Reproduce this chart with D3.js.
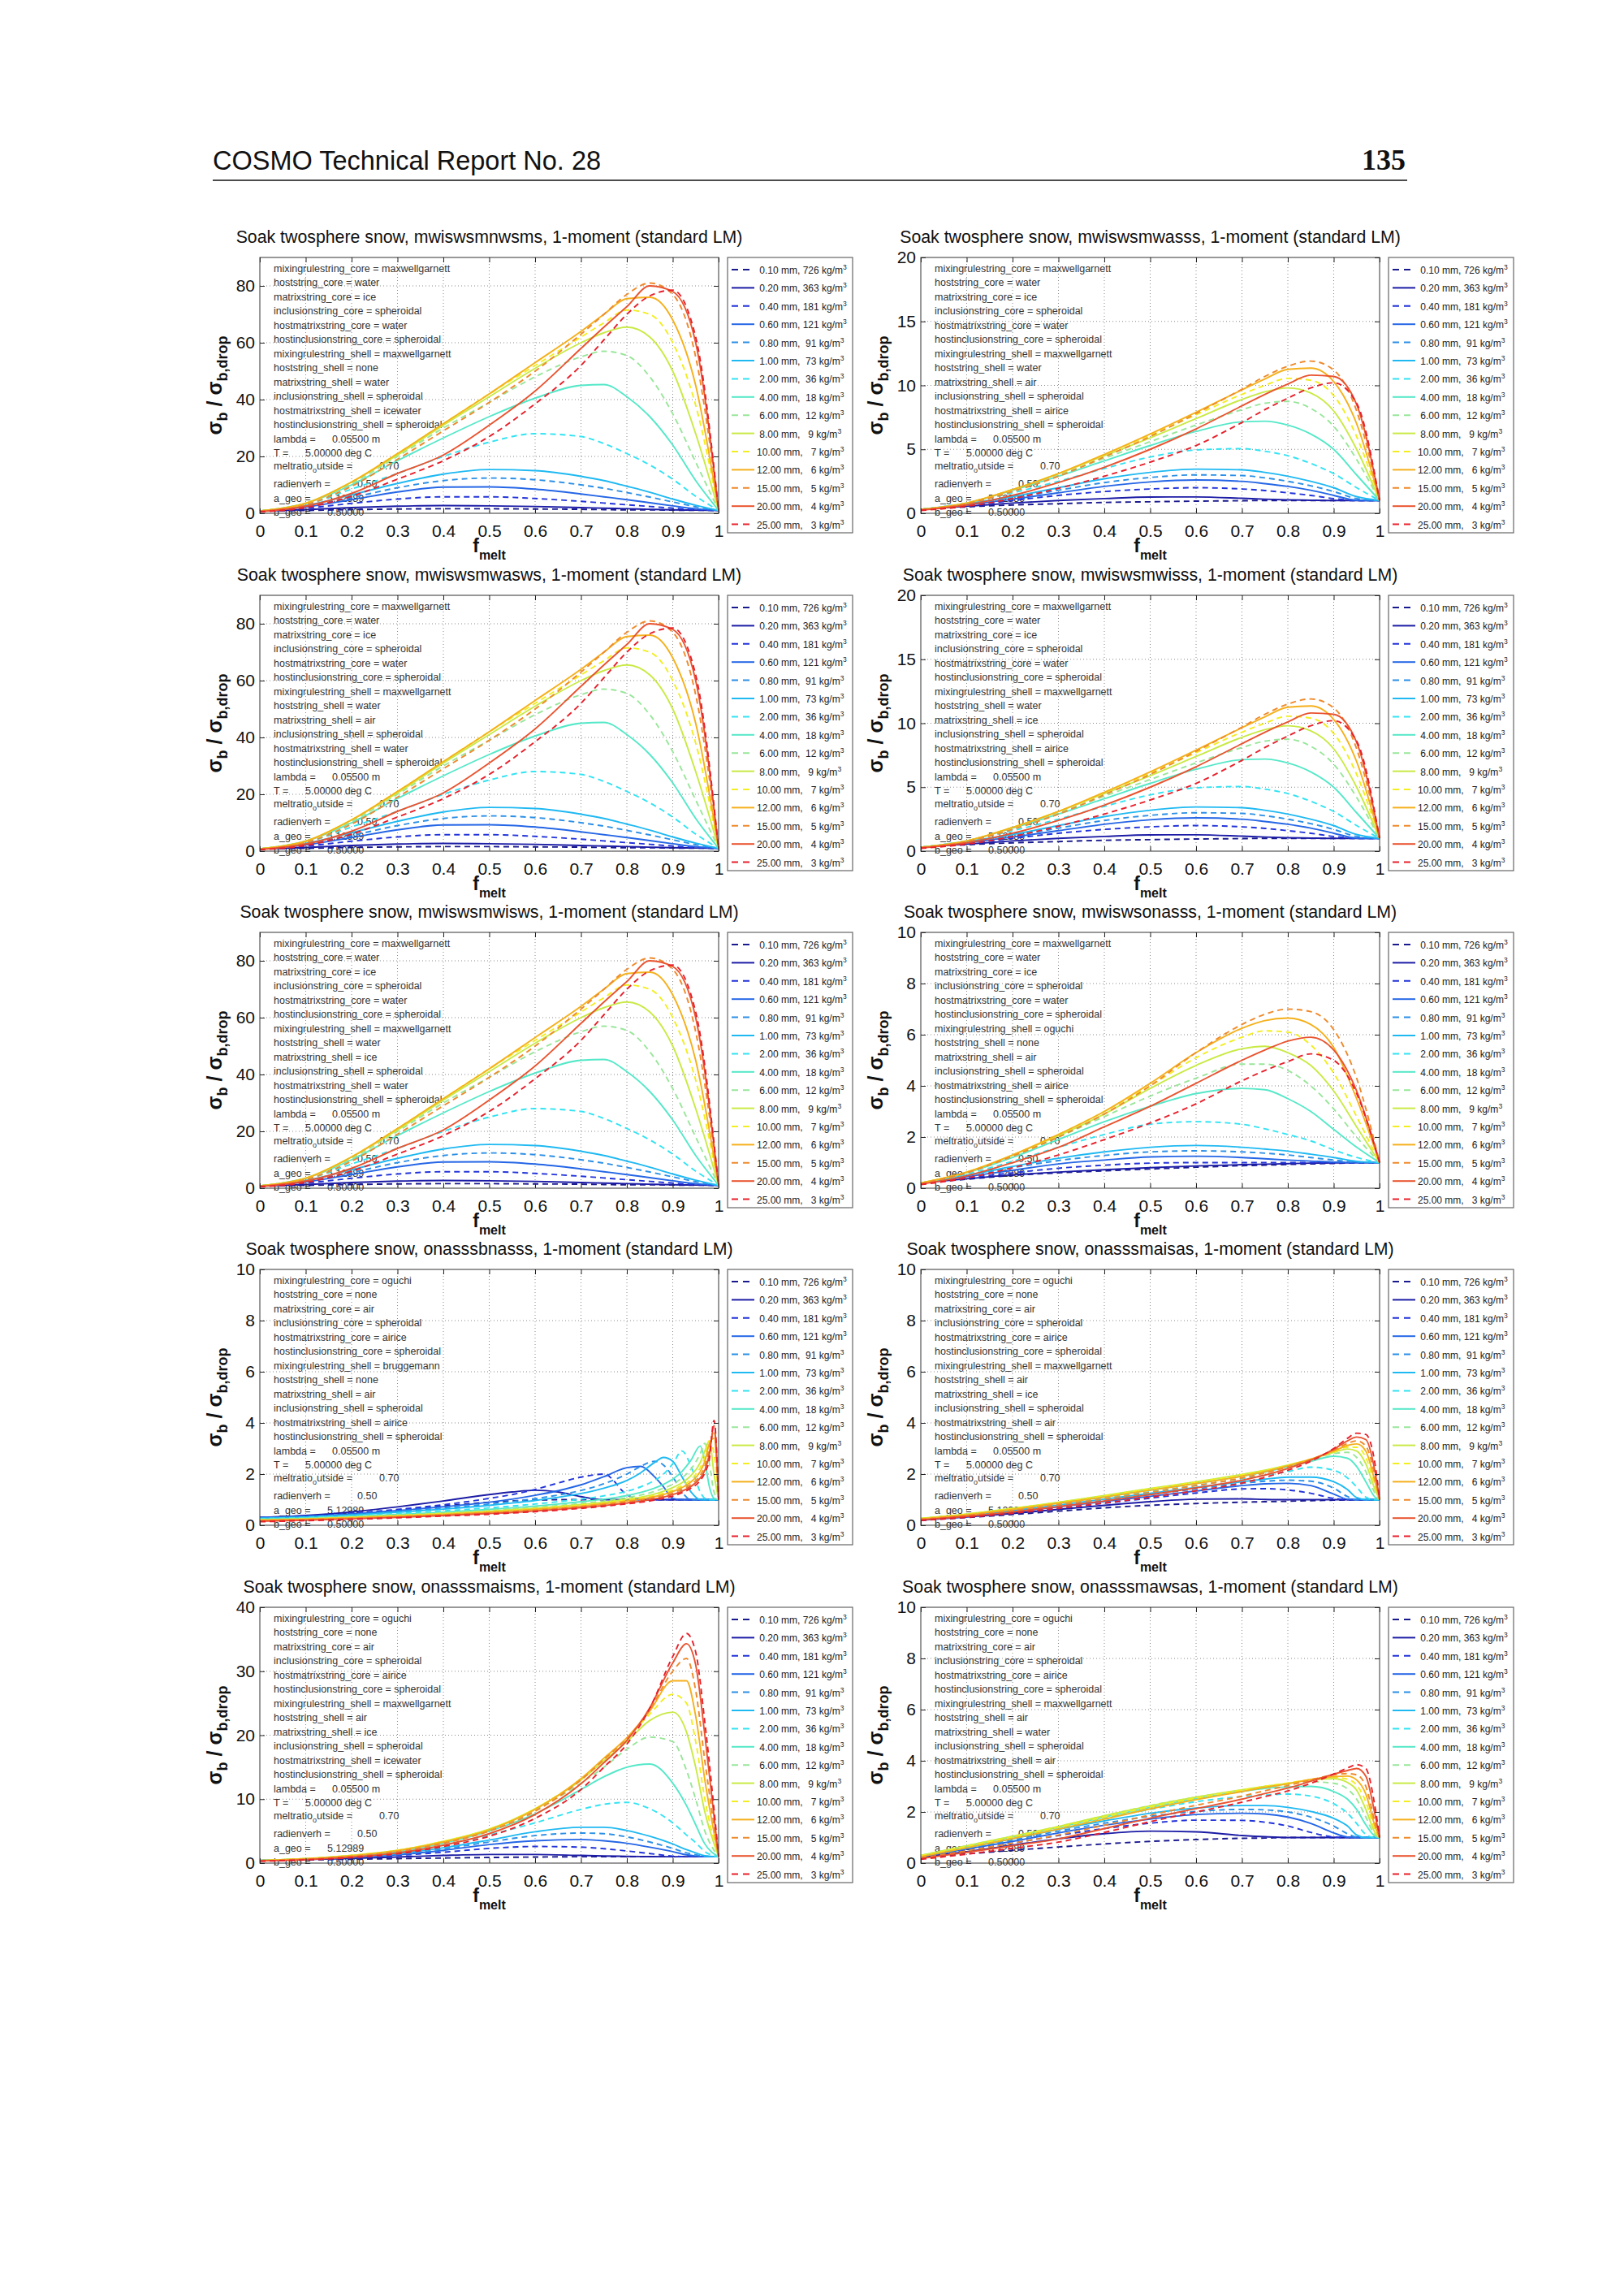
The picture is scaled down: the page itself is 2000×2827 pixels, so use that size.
<!DOCTYPE html>
<html lang="en">
<head>
<meta charset="utf-8">
<script src="https://cdn.jsdelivr.net/npm/d3@7"></script>
<style>
body { margin: 0; background: #fff; }
svg text { font-family: "Liberation Sans", Arial, Helvetica, sans-serif; }
.pre { white-space: pre; }
</style>
</head>
<body>
<script>
// ---------- data ----------
// legend: particle size and density
const sizeLabels = ["0.10", "0.20", "0.40", "0.60", "0.80", "1.00", "2.00", "4.00", "6.00", "8.00", "10.00", "12.00", "15.00", "20.00", "25.00"];
const densityLabels = [726, 363, 181, 121, 91, 73, 36, 18, 12, 9, 7, 6, 5, 4, 3];

// line styles (jet-like colour order, dashed / solid alternate)
const seriesColors = ["#1a1a8f", "#1c1ca6", "#2233d9", "#2566e6", "#2b8fe6", "#1fb9f2", "#33e3f2", "#55e8c8",
                      "#99e69a", "#c9ea45", "#f2ee1f", "#f5b01c", "#ef8a2c", "#e9532f", "#e8202b"];
const seriesDashed = [true, false, true, false, true, false, true, false, true, false, true, false, true, false, true];

const panelTitles = [
  "Soak twosphere snow, mwiswsmnwsms, 1-moment (standard LM)",
  "Soak twosphere snow, mwiswsmwasss, 1-moment (standard LM)",
  "Soak twosphere snow, mwiswsmwasws, 1-moment (standard LM)",
  "Soak twosphere snow, mwiswsmwisss, 1-moment (standard LM)",
  "Soak twosphere snow, mwiswsmwisws, 1-moment (standard LM)",
  "Soak twosphere snow, mwiswsonasss, 1-moment (standard LM)",
  "Soak twosphere snow, onasssbnasss, 1-moment (standard LM)",
  "Soak twosphere snow, onasssmaisas, 1-moment (standard LM)",
  "Soak twosphere snow, onasssmaisms, 1-moment (standard LM)",
  "Soak twosphere snow, onasssmawsas, 1-moment (standard LM)"
];
const panelYMax = [90, 20, 90, 20, 90, 10, 10, 10, 40, 10];
const panelYStep = [20, 5, 20, 5, 20, 2, 2, 2, 10, 2];
const xTickValues = [0, 0.1, 0.2, 0.3, 0.4, 0.5, 0.6, 0.7, 0.8, 0.9, 1];
const xTickLabels = ["0", "0.1", "0.2", "0.3", "0.4", "0.5", "0.6", "0.7", "0.8", "0.9", "1"];

// annotation text
const paramNames = ["mixingrulestring", "hoststring", "matrixstring", "inclusionstring", "hostmatrixstring", "hostinclusionstring"];
const coreSettings = [
  ["maxwellgarnett", "water", "ice", "spheroidal", "water", "spheroidal"],
  ["maxwellgarnett", "water", "ice", "spheroidal", "water", "spheroidal"],
  ["maxwellgarnett", "water", "ice", "spheroidal", "water", "spheroidal"],
  ["maxwellgarnett", "water", "ice", "spheroidal", "water", "spheroidal"],
  ["maxwellgarnett", "water", "ice", "spheroidal", "water", "spheroidal"],
  ["maxwellgarnett", "water", "ice", "spheroidal", "water", "spheroidal"],
  ["oguchi", "none", "air", "spheroidal", "airice", "spheroidal"],
  ["oguchi", "none", "air", "spheroidal", "airice", "spheroidal"],
  ["oguchi", "none", "air", "spheroidal", "airice", "spheroidal"],
  ["oguchi", "none", "air", "spheroidal", "airice", "spheroidal"]
];
const shellSettings = [
  ["maxwellgarnett", "none", "water", "spheroidal", "icewater", "spheroidal"],
  ["maxwellgarnett", "water", "air", "spheroidal", "airice", "spheroidal"],
  ["maxwellgarnett", "water", "air", "spheroidal", "water", "spheroidal"],
  ["maxwellgarnett", "water", "ice", "spheroidal", "airice", "spheroidal"],
  ["maxwellgarnett", "water", "ice", "spheroidal", "water", "spheroidal"],
  ["oguchi", "none", "air", "spheroidal", "airice", "spheroidal"],
  ["bruggemann", "none", "air", "spheroidal", "airice", "spheroidal"],
  ["maxwellgarnett", "air", "ice", "spheroidal", "air", "spheroidal"],
  ["maxwellgarnett", "air", "ice", "spheroidal", "icewater", "spheroidal"],
  ["maxwellgarnett", "air", "water", "spheroidal", "air", "spheroidal"]
];
const physLabels = ["lambda =", "T =", "meltratio", "radienverh =", "a_geo =", "b_geo ="];
const physValues = ["0.05500 m", "5.00000 deg C", "0.70", "0.50", "5.12989", "0.50000"];

// f_melt sample points
const fGridA = [0, 0.1, 0.2, 0.3, 0.4, 0.5, 0.6, 0.7, 0.75, 0.8, 0.85, 0.9, 0.95, 1];
const fGrid7 = [0, 0.1, 0.2, 0.3, 0.4, 0.5, 0.55, 0.6, 0.65, 0.7, 0.75, 0.8, 0.83, 0.86, 0.88, 0.9, 0.92, 0.94, 0.96, 0.97, 0.98, 0.99, 1];
const fGrid8 = [0, 0.1, 0.2, 0.3, 0.4, 0.5, 0.6, 0.7, 0.75, 0.8, 0.85, 0.9, 0.93, 0.95, 0.97, 0.99, 1];
const fGrid9 = [0, 0.1, 0.2, 0.3, 0.4, 0.5, 0.6, 0.7, 0.75, 0.8, 0.85, 0.9, 0.93, 0.95, 0.97, 1];

// sigma_b / sigma_b,drop, one row per size
const valsMwNwsms = [
  [0.8, 1.0, 1.3, 1.5, 1.6, 1.6, 1.5, 1.4, 1.3, 1.2, 1.2, 1.1, 1.05, 1],
  [0.8, 1.3, 2.0, 2.5, 2.7, 2.6, 2.4, 2.0, 1.8, 1.6, 1.4, 1.2, 1.1, 1],
  [0.8, 1.8, 3.5, 5.0, 5.8, 5.8, 5.2, 4.2, 3.6, 3.0, 2.4, 1.8, 1.3, 1],
  [0.8, 2.2, 4.8, 7.5, 9.2, 9.3, 8.5, 6.8, 5.8, 4.8, 3.7, 2.6, 1.6, 1],
  [0.8, 2.5, 5.5, 9.0, 11.5, 12.4, 11.8, 10.0, 8.8, 7.3, 5.7, 4.0, 2.3, 1],
  [0.8, 2.7, 6.5, 10.5, 13.8, 15.4, 15.0, 13.0, 11.5, 9.5, 7.4, 5.0, 2.8, 1],
  [0.8, 3.0, 8.5, 14.0, 20.0, 25.0, 28.0, 27.0, 24.5, 21.0, 17.0, 12.0, 6.0, 1],
  [0.8, 3.5, 10, 18.5, 26.5, 34, 40.5, 45, 45.3, 41, 34, 24, 11.5, 1],
  [0.8, 3.5, 10.5, 20, 30, 39, 48, 55, 57, 55.5, 48, 35, 18, 1],
  [0.8, 3.5, 11, 20.5, 31, 41, 51, 60, 63.5, 65.5, 62, 50, 28, 1],
  [0.8, 3.5, 11, 21, 31.5, 42, 52, 62, 67, 71.5, 70, 60, 38, 1],
  [0.8, 3.5, 11, 21, 31.5, 42, 53, 64, 70, 75.5, 76, 68, 45, 1],
  [0.7, 3.0, 9.5, 19, 29, 39, 50, 63, 70, 77, 81, 77, 55, 1],
  [0.6, 2.5, 7.0, 14, 20.5, 31, 43, 58, 65.5, 72.7, 80, 78, 60, 1],
  [0.5, 2.0, 6.0, 12, 18.5, 27, 38.5, 52, 61, 70, 76.5, 78.5, 62, 1]
];
const valsMwAsss = [
  [0.3, 0.5, 0.65, 0.75, 0.85, 0.9, 0.95, 0.98, 1, 1, 1, 1, 1, 1],
  [0.3, 0.55, 0.8, 1.0, 1.15, 1.27, 1.28, 1.17, 1.1, 1.05, 1.02, 1, 1, 1],
  [0.3, 0.6, 1.0, 1.4, 1.7, 1.9, 2.0, 1.9, 1.78, 1.6, 1.4, 1.15, 1.0, 1],
  [0.3, 0.65, 1.1, 1.6, 2.1, 2.45, 2.6, 2.5, 2.32, 2.1, 1.8, 1.4, 1.02, 1],
  [0.3, 0.7, 1.2, 1.8, 2.4, 2.8, 3.0, 2.95, 2.77, 2.5, 2.15, 1.7, 1.15, 1],
  [0.3, 0.75, 1.3, 2.0, 2.7, 3.2, 3.45, 3.4, 3.2, 2.9, 2.5, 2.0, 1.3, 1],
  [0.3, 0.8, 1.6, 2.5, 3.5, 4.4, 4.95, 5.05, 4.85, 4.5, 3.9, 3.1, 2.0, 1],
  [0.3, 0.8, 1.8, 2.9, 4.1, 5.3, 6.4, 7.15, 7.2, 6.9, 6.2, 5.0, 3.0, 1],
  [0.3, 0.8, 1.85, 3.0, 4.3, 5.6, 6.9, 8.1, 8.6, 8.75, 8.2, 6.8, 4.2, 1],
  [0.3, 0.8, 1.85, 3.1, 4.5, 5.9, 7.4, 8.9, 9.5, 9.8, 9.4, 8.0, 5.0, 1],
  [0.3, 0.8, 1.85, 3.1, 4.6, 6.1, 7.7, 9.3, 10.0, 10.55, 10.4, 9.2, 6.0, 1],
  [0.3, 0.8, 1.85, 3.1, 4.6, 6.2, 7.9, 9.65, 10.5, 11.25, 11.35, 10.3, 7.0, 1],
  [0.28, 0.75, 1.7, 2.9, 4.4, 6.0, 7.8, 9.7, 10.7, 11.5, 11.9, 11.2, 8.0, 1],
  [0.25, 0.65, 1.4, 2.4, 3.6, 5.0, 6.6, 8.4, 9.3, 10.1, 10.8, 10.7, 8.5, 1],
  [0.22, 0.55, 1.15, 1.95, 2.9, 4.0, 5.3, 7.1, 8.1, 9.0, 9.8, 10.2, 8.6, 1]
];
const valsOnAsss = [
  [0.2, 0.35, 0.5, 0.6, 0.68, 0.75, 0.82, 0.88, 0.9, 0.93, 0.95, 0.97, 0.99, 1],
  [0.2, 0.37, 0.52, 0.63, 0.72, 0.8, 0.87, 0.92, 0.94, 0.96, 0.98, 0.99, 1, 1],
  [0.2, 0.4, 0.6, 0.78, 0.9, 0.98, 1.0, 1.0, 1.0, 1.0, 1.0, 1.0, 1, 1],
  [0.2, 0.45, 0.7, 0.95, 1.1, 1.22, 1.25, 1.2, 1.15, 1.1, 1.06, 1.02, 1, 1],
  [0.2, 0.5, 0.8, 1.08, 1.28, 1.42, 1.46, 1.42, 1.37, 1.3, 1.2, 1.1, 1.02, 1],
  [0.2, 0.5, 0.85, 1.17, 1.42, 1.6, 1.67, 1.6, 1.53, 1.45, 1.33, 1.2, 1.05, 1],
  [0.2, 0.55, 1.05, 1.6, 2.1, 2.5, 2.6, 2.5, 2.32, 2.1, 1.85, 1.5, 1.2, 1],
  [0.2, 0.6, 1.2, 1.9, 2.6, 3.2, 3.7, 3.9, 3.85, 3.5, 3.0, 2.3, 1.6, 1],
  [0.2, 0.6, 1.25, 2.0, 2.8, 3.6, 4.3, 4.85, 4.85, 4.6, 4.0, 3.1, 2.0, 1],
  [0.2, 0.62, 1.3, 2.05, 2.9, 3.9, 4.8, 5.45, 5.55, 5.3, 4.8, 3.8, 2.4, 1],
  [0.2, 0.63, 1.3, 2.1, 3.0, 4.0, 5.1, 5.9, 6.15, 6.1, 5.6, 4.5, 2.8, 1],
  [0.2, 0.63, 1.3, 2.1, 3.0, 4.1, 5.3, 6.25, 6.55, 6.65, 6.4, 5.5, 3.5, 1],
  [0.18, 0.6, 1.25, 2.0, 2.9, 4.0, 5.3, 6.4, 6.8, 7.0, 6.9, 6.2, 4.3, 1],
  [0.16, 0.48, 1.0, 1.6, 2.4, 3.2, 4.1, 5.0, 5.4, 5.75, 5.9, 5.4, 3.8, 1],
  [0.14, 0.4, 0.8, 1.3, 1.9, 2.55, 3.3, 4.2, 4.6, 4.95, 5.25, 5.0, 3.7, 1]
];
const valsOnBnasss = [
  [0.3, 0.36, 0.46, 0.6, 0.75, 0.9, 0.95, 0.98, 1, 1, 1, 1, 1, 1, 1, 1, 1, 1, 1, 1, 1, 1, 1],
  [0.3, 0.38, 0.52, 0.72, 0.95, 1.2, 1.3, 1.37, 1.3, 1.12, 1.0, 1, 1, 1, 1, 1, 1, 1, 1, 1, 1, 1, 1],
  [0.3, 0.36, 0.47, 0.62, 0.8, 1.05, 1.2, 1.4, 1.65, 1.88, 2.0, 1.2, 1.0, 1, 1, 1, 1, 1, 1, 1, 1, 1, 1],
  [0.3, 0.35, 0.44, 0.57, 0.72, 0.9, 1.02, 1.17, 1.35, 1.58, 1.9, 2.25, 2.3, 1.9, 1.5, 1.05, 1, 1, 1, 1, 1, 1, 1],
  [0.28, 0.33, 0.42, 0.54, 0.67, 0.83, 0.93, 1.04, 1.18, 1.36, 1.62, 2.0, 2.3, 2.5, 2.35, 1.9, 1.3, 1.0, 1, 1, 1, 1, 1],
  [0.27, 0.32, 0.4, 0.51, 0.63, 0.78, 0.87, 0.97, 1.09, 1.24, 1.45, 1.75, 2.05, 2.45, 2.65, 2.5, 1.9, 1.3, 1.0, 1, 1, 1, 1],
  [0.25, 0.3, 0.37, 0.46, 0.56, 0.68, 0.75, 0.83, 0.92, 1.02, 1.15, 1.33, 1.5, 1.75, 2.0, 2.4, 2.9, 2.3, 1.3, 1.05, 1, 1, 1],
  [0.23, 0.28, 0.34, 0.42, 0.51, 0.62, 0.68, 0.75, 0.83, 0.92, 1.02, 1.16, 1.28, 1.45, 1.6, 1.8, 2.1, 2.55, 3.1, 2.5, 1.5, 1.05, 1],
  [0.22, 0.26, 0.32, 0.4, 0.48, 0.58, 0.64, 0.7, 0.77, 0.85, 0.95, 1.08, 1.18, 1.32, 1.45, 1.6, 1.85, 2.2, 2.8, 3.2, 2.4, 1.3, 1],
  [0.21, 0.25, 0.31, 0.38, 0.46, 0.55, 0.61, 0.67, 0.74, 0.81, 0.9, 1.02, 1.1, 1.22, 1.33, 1.47, 1.66, 1.95, 2.45, 2.9, 3.3, 2.0, 1],
  [0.2, 0.24, 0.3, 0.37, 0.44, 0.53, 0.58, 0.64, 0.7, 0.78, 0.87, 0.98, 1.06, 1.16, 1.26, 1.38, 1.55, 1.8, 2.25, 2.65, 3.3, 2.8, 1],
  [0.19, 0.23, 0.29, 0.35, 0.42, 0.51, 0.56, 0.62, 0.68, 0.75, 0.84, 0.95, 1.02, 1.12, 1.2, 1.32, 1.47, 1.7, 2.1, 2.5, 3.2, 3.4, 1],
  [0.18, 0.22, 0.27, 0.33, 0.4, 0.48, 0.53, 0.59, 0.65, 0.72, 0.8, 0.91, 0.98, 1.07, 1.15, 1.26, 1.4, 1.6, 1.95, 2.3, 3.0, 3.7, 1],
  [0.16, 0.2, 0.25, 0.31, 0.38, 0.46, 0.5, 0.56, 0.62, 0.69, 0.77, 0.87, 0.94, 1.03, 1.1, 1.2, 1.33, 1.52, 1.85, 2.15, 2.8, 3.9, 1],
  [0.14, 0.18, 0.23, 0.29, 0.36, 0.43, 0.48, 0.53, 0.59, 0.66, 0.74, 0.84, 0.9, 0.98, 1.05, 1.14, 1.27, 1.45, 1.75, 2.05, 2.6, 4.1, 1]
];
const valsOnMaisas = [
  [0.2, 0.3, 0.42, 0.55, 0.68, 0.78, 0.85, 0.9, 0.92, 0.94, 0.96, 0.98, 0.99, 1, 1, 1, 1],
  [0.2, 0.32, 0.46, 0.62, 0.78, 0.92, 1.02, 1.03, 1.01, 1, 1, 1, 1, 1, 1, 1, 1],
  [0.2, 0.33, 0.48, 0.66, 0.86, 1.06, 1.26, 1.42, 1.43, 1.38, 1.25, 1.05, 1, 1, 1, 1, 1],
  [0.22, 0.35, 0.52, 0.72, 0.93, 1.13, 1.34, 1.55, 1.62, 1.64, 1.55, 1.22, 1.02, 1, 1, 1, 1],
  [0.23, 0.37, 0.55, 0.76, 0.98, 1.2, 1.42, 1.64, 1.72, 1.76, 1.72, 1.45, 1.12, 1.0, 1, 1, 1],
  [0.24, 0.38, 0.57, 0.79, 1.02, 1.25, 1.48, 1.7, 1.8, 1.88, 1.88, 1.7, 1.4, 1.08, 1, 1, 1],
  [0.25, 0.4, 0.6, 0.83, 1.07, 1.31, 1.56, 1.82, 1.95, 2.1, 2.27, 2.15, 1.85, 1.5, 1.1, 1, 1],
  [0.26, 0.42, 0.63, 0.87, 1.12, 1.38, 1.64, 1.92, 2.08, 2.28, 2.5, 2.7, 2.62, 2.3, 1.7, 1.1, 1],
  [0.27, 0.43, 0.65, 0.89, 1.15, 1.42, 1.68, 1.97, 2.13, 2.33, 2.55, 2.8, 2.85, 2.65, 2.1, 1.25, 1],
  [0.27, 0.44, 0.66, 0.9, 1.16, 1.44, 1.7, 1.99, 2.15, 2.35, 2.58, 2.85, 2.98, 2.9, 2.4, 1.4, 1],
  [0.26, 0.43, 0.65, 0.89, 1.14, 1.42, 1.68, 1.97, 2.14, 2.34, 2.58, 2.87, 3.05, 3.05, 2.65, 1.55, 1],
  [0.25, 0.41, 0.62, 0.86, 1.1, 1.37, 1.63, 1.92, 2.1, 2.32, 2.58, 2.9, 3.12, 3.18, 2.9, 1.7, 1],
  [0.23, 0.38, 0.57, 0.8, 1.03, 1.29, 1.55, 1.85, 2.04, 2.28, 2.57, 2.93, 3.2, 3.3, 3.1, 1.9, 1],
  [0.21, 0.35, 0.52, 0.73, 0.95, 1.2, 1.46, 1.76, 1.96, 2.22, 2.54, 2.97, 3.3, 3.45, 3.35, 2.1, 1],
  [0.19, 0.31, 0.47, 0.66, 0.87, 1.1, 1.35, 1.65, 1.87, 2.15, 2.5, 3.0, 3.4, 3.6, 3.55, 2.4, 1]
];
const valsOnMaisms = [
  [0.4, 0.5, 0.6, 0.7, 0.8, 0.88, 0.95, 1, 1, 1, 1, 1, 1, 1, 1, 1],
  [0.4, 0.55, 0.75, 0.95, 1.2, 1.35, 1.35, 1.2, 1.12, 1.05, 1.02, 1, 1, 1, 1, 1],
  [0.4, 0.6, 0.85, 1.2, 1.7, 2.3, 2.6, 2.5, 2.25, 1.9, 1.5, 1.1, 1.0, 1, 1, 1],
  [0.4, 0.62, 0.9, 1.3, 2.0, 2.9, 3.5, 3.7, 3.5, 3.1, 2.5, 1.8, 1.3, 1.1, 1, 1],
  [0.4, 0.63, 0.95, 1.4, 2.2, 3.3, 4.3, 4.7, 4.6, 4.1, 3.3, 2.3, 1.6, 1.3, 1.05, 1],
  [0.4, 0.65, 1.0, 1.5, 2.4, 3.6, 4.9, 5.6, 5.6, 5.1, 4.2, 3.0, 2.1, 1.6, 1.15, 1],
  [0.4, 0.66, 1.05, 1.7, 2.8, 4.4, 6.3, 8.4, 9.2, 9.5, 8.5, 6.3, 4.4, 3.2, 1.8, 1],
  [0.4, 0.68, 1.1, 1.8, 3.1, 5.0, 7.7, 11.5, 13.5, 15.0, 15.5, 12.5, 9, 6, 3, 1],
  [0.4, 0.7, 1.15, 1.9, 3.3, 5.3, 8.3, 12.5, 15.0, 17.8, 19.7, 19.0, 14.5, 10, 5, 1],
  [0.4, 0.7, 1.2, 2.0, 3.4, 5.3, 8.5, 13.0, 16.0, 19.0, 22.3, 23.6, 20.5, 15, 8, 1],
  [0.4, 0.7, 1.2, 2.0, 3.4, 5.3, 8.5, 13.2, 16.3, 19.5, 23.3, 26.4, 25, 19, 10, 1],
  [0.38, 0.68, 1.15, 1.95, 3.3, 5.2, 8.4, 13.2, 16.4, 19.6, 23.8, 28.5, 28.5, 23, 13, 1],
  [0.35, 0.62, 1.05, 1.8, 3.1, 5.0, 8.1, 13.0, 16.2, 19.5, 24.0, 30.0, 32, 27, 16, 1],
  [0.32, 0.56, 0.95, 1.6, 2.8, 4.6, 7.6, 12.4, 15.7, 19.2, 24.3, 31.3, 34.3, 31, 20, 1],
  [0.3, 0.5, 0.85, 1.45, 2.6, 4.2, 7.0, 11.5, 15.0, 18.6, 24.2, 32.3, 35.9, 33, 22, 1]
];
const valsOnMawsas = [
  [0.22, 0.36, 0.5, 0.63, 0.75, 0.85, 0.92, 0.97, 0.98, 1, 1, 1, 1, 1, 1, 1, 1],
  [0.23, 0.45, 0.7, 0.95, 1.15, 1.25, 1.22, 1.08, 1.03, 1.0, 1, 1, 1, 1, 1, 1, 1],
  [0.24, 0.5, 0.78, 1.08, 1.35, 1.56, 1.68, 1.67, 1.6, 1.45, 1.2, 1.02, 1, 1, 1, 1, 1],
  [0.25, 0.55, 0.85, 1.18, 1.48, 1.72, 1.9, 1.95, 1.92, 1.8, 1.55, 1.18, 1.02, 1, 1, 1, 1],
  [0.26, 0.58, 0.9, 1.25, 1.56, 1.83, 2.02, 2.1, 2.08, 2.0, 1.8, 1.45, 1.15, 1.02, 1, 1, 1],
  [0.27, 0.6, 0.95, 1.32, 1.65, 1.95, 2.15, 2.25, 2.25, 2.18, 2.02, 1.75, 1.45, 1.1, 1, 1, 1],
  [0.28, 0.64, 1.0, 1.38, 1.76, 2.1, 2.4, 2.6, 2.66, 2.7, 2.62, 2.32, 1.95, 1.55, 1.12, 1, 1],
  [0.29, 0.66, 1.03, 1.4, 1.8, 2.18, 2.52, 2.8, 2.92, 2.98, 3.0, 2.8, 2.5, 2.1, 1.5, 1.05, 1],
  [0.3, 0.68, 1.05, 1.43, 1.85, 2.25, 2.58, 2.85, 2.97, 3.08, 3.18, 3.12, 2.9, 2.5, 1.8, 1.1, 1],
  [0.3, 0.68, 1.05, 1.43, 1.85, 2.24, 2.58, 2.87, 3.0, 3.12, 3.25, 3.3, 3.15, 2.85, 2.1, 1.2, 1],
  [0.28, 0.65, 1.02, 1.4, 1.8, 2.2, 2.54, 2.85, 3.0, 3.13, 3.27, 3.35, 3.28, 3.05, 2.4, 1.3, 1],
  [0.25, 0.6, 0.96, 1.33, 1.72, 2.12, 2.48, 2.8, 2.96, 3.1, 3.27, 3.38, 3.4, 3.25, 2.7, 1.45, 1],
  [0.2, 0.48, 0.78, 1.1, 1.48, 1.88, 2.26, 2.62, 2.83, 3.03, 3.25, 3.45, 3.5, 3.45, 3.0, 1.6, 1],
  [0.18, 0.42, 0.68, 0.95, 1.35, 1.76, 2.13, 2.5, 2.72, 2.93, 3.2, 3.48, 3.62, 3.7, 3.4, 1.9, 1],
  [0.15, 0.35, 0.58, 0.82, 1.2, 1.62, 2.0, 2.38, 2.6, 2.82, 3.12, 3.48, 3.72, 3.85, 3.7, 2.2, 1]
];

// panels in reading order (rows of two); mw*wasws / mw*wisws look like mw*nwsms, mw*wisss like mw*wasss
const panelF = [fGridA, fGridA, fGridA, fGridA, fGridA, fGridA, fGrid7, fGrid8, fGrid9, fGrid8];
const panelValues = [valsMwNwsms, valsMwAsss, valsMwNwsms, valsMwAsss, valsMwNwsms, valsOnAsss,
                     valsOnBnasss, valsOnMaisas, valsOnMaisms, valsOnMawsas];

// ---------- layout ----------
const colX = [320, 1134];
const rowY = [317, 733, 1148, 1563, 1979];
const axW = 565, axH = 315;
const annotY = [13, 30.5, 48, 65.5, 83, 100.5, 118, 135.5, 153, 170.5, 188, 205.5, 223, 240.5, 256, 278, 296, 313.5];
const physX = [89, 56, 147, 120, 83, 83];

const svg = d3.select("body").append("svg")
  .attr("width", 2000)
  .attr("height", 2827);

svg.append("rect").attr("width", 2000).attr("height", 2827).attr("fill", "#fff");

// page header
svg.append("text")
  .attr("x", 262).attr("y", 209)
  .attr("font-size", 32.5)
  .attr("fill", "#111")
  .text("COSMO Technical Report No. 28");
svg.append("text")
  .attr("x", 1731).attr("y", 209)
  .attr("text-anchor", "end")
  .attr("font-size", 36)
  .attr("font-weight", "bold")
  .style("font-family", "'Liberation Serif', 'DejaVu Serif', serif")
  .attr("fill", "#111")
  .text("135");
svg.append("line")
  .attr("x1", 262).attr("x2", 1733)
  .attr("y1", 222).attr("y2", 222)
  .attr("stroke", "#111")
  .attr("stroke-width", 1.6);

panelTitles.forEach(function(title, p) {
  var left = colX[p % 2];
  var top = rowY[Math.floor(p / 2)];
  var g = svg.append("g").attr("transform", "translate(" + left + "," + top + ")");

  var x = d3.scaleLinear().domain([0, 1]).range([0, axW]);
  var y = d3.scaleLinear().domain([0, panelYMax[p]]).range([axH, 0]);
  var yTicks = d3.range(0, panelYMax[p] + 1e-9, panelYStep[p]);

  // title
  g.append("text")
    .attr("x", axW / 2).attr("y", -18)
    .attr("text-anchor", "middle")
    .attr("font-size", 21.3)
    .attr("fill", "#111")
    .text(title);

  // grid
  g.append("g").selectAll("line")
    .data(xTickValues.slice(1, -1))
    .enter().append("line")
    .attr("x1", function(d) { return x(d); }).attr("x2", function(d) { return x(d); })
    .attr("y1", 0).attr("y2", axH)
    .attr("stroke", "#8a8a8a").attr("stroke-width", 1).attr("stroke-dasharray", "1,3");
  g.append("g").selectAll("line")
    .data(yTicks.filter(function(v) { return v > 0 && v < panelYMax[p]; }))
    .enter().append("line")
    .attr("x1", 0).attr("x2", axW)
    .attr("y1", function(d) { return y(d); }).attr("y2", function(d) { return y(d); })
    .attr("stroke", "#8a8a8a").attr("stroke-width", 1).attr("stroke-dasharray", "1,3");

  // parameter text block
  var lines = [];
  paramNames.forEach(function(n, k) { lines.push(n + "_core = " + coreSettings[p][k]); });
  paramNames.forEach(function(n, k) { lines.push(n + "_shell = " + shellSettings[p][k]); });
  var ann = g.append("g").attr("font-size", 12.5).attr("fill", "#333");
  lines.forEach(function(s, k) {
    ann.append("text").attr("x", 17).attr("y", annotY[k] + 4.5).text(s);
  });
  physLabels.forEach(function(s, k) {
    var t = ann.append("text").attr("x", 17).attr("y", annotY[12 + k] + 4.5);
    if (s === "meltratio") {
      t.append("tspan").text("meltratio");
      t.append("tspan").attr("dy", 4).attr("font-size", 9).text("o");
      t.append("tspan").attr("dy", -4).text("utside =");
    } else {
      t.text(s);
    }
    ann.append("text").attr("x", physX[k]).attr("y", annotY[12 + k] + 4.5).text(physValues[k]);
  });

  // curves
  var line = d3.line()
    .x(function(d) { return x(d[0]); })
    .y(function(d) { return y(d[1]); })
    .curve(d3.curveMonotoneX);
  var fs = panelF[p];
  panelValues[p].forEach(function(vals, i) {
    var pts = vals.map(function(v, k) { return [fs[k], v]; });
    g.append("path")
      .attr("d", line(pts))
      .attr("fill", "none")
      .attr("stroke", seriesColors[i])
      .attr("stroke-width", 1.9)
      .attr("stroke-dasharray", seriesDashed[i] ? "7,5" : null);
  });

  // axes (ticks inside, box on)
  g.append("g")
    .attr("transform", "translate(0," + axH + ")")
    .call(d3.axisBottom(x).tickValues(xTickValues)
      .tickFormat(function(d, i) { return xTickLabels[i]; })
      .tickSize(-6).tickPadding(14));
  g.append("g")
    .call(d3.axisLeft(y).tickValues(yTicks).tickFormat(d3.format("d"))
      .tickSize(-6).tickPadding(6));
  g.append("g")
    .call(d3.axisTop(x).tickValues(xTickValues).tickFormat("").tickSize(-6));
  g.append("g")
    .attr("transform", "translate(" + axW + ",0)")
    .call(d3.axisRight(y).tickValues(yTicks).tickFormat("").tickSize(-6));
  g.selectAll(".domain").remove();
  g.selectAll(".tick line").attr("stroke", "#222");
  g.selectAll(".tick text")
    .attr("font-size", 21)
    .attr("fill", "#111")
    .style("font-family", "'Liberation Sans', Arial, sans-serif");
  g.append("rect")
    .attr("width", axW).attr("height", axH)
    .attr("fill", "none").attr("stroke", "#333").attr("stroke-width", 1);

  // axis labels
  var yl = g.append("text")
    .attr("transform", "translate(-47," + (axH / 2) + ") rotate(-90)")
    .attr("text-anchor", "middle")
    .attr("font-size", 25)
    .attr("font-weight", "bold")
    .attr("fill", "#111");
  yl.append("tspan").text("σ");
  yl.append("tspan").attr("dy", 7).attr("font-size", 18).text("b");
  yl.append("tspan").attr("dy", -7).text(" / σ");
  yl.append("tspan").attr("dy", 7).attr("font-size", 18).text("b,drop");

  var xl = g.append("text")
    .attr("x", axW / 2).attr("y", axH + 48)
    .attr("text-anchor", "middle")
    .attr("font-size", 23)
    .attr("font-weight", "bold")
    .attr("fill", "#111");
  xl.append("tspan").text("f");
  xl.append("tspan").attr("dy", 9).attr("font-size", 16).text("melt");

  // legend
  var lg = g.append("g").attr("transform", "translate(" + (axW + 11) + ",0)");
  lg.append("rect")
    .attr("width", 154).attr("height", 339)
    .attr("fill", "#fff").attr("stroke", "#666").attr("stroke-width", 1.2);
  sizeLabels.forEach(function(s, i) {
    var cy = 15 + i * 22.4;
    lg.append("line")
      .attr("x1", 5).attr("x2", 33)
      .attr("y1", cy).attr("y2", cy)
      .attr("stroke", seriesColors[i])
      .attr("stroke-width", 2)
      .attr("stroke-dasharray", seriesDashed[i] ? "8,6" : null);
    var label = s.padStart(5, " ") + " mm, " + String(densityLabels[i]).padStart(3, " ") + " kg/m";
    var t = lg.append("text")
      .attr("class", "pre")
      .attr("x", 36).attr("y", cy + 5)
      .attr("font-size", 12)
      .attr("fill", "#222");
    t.append("tspan").text(label);
    t.append("tspan").attr("dy", -5).attr("font-size", 8.5).text("3");
  });
});
</script>
</body>
</html>
